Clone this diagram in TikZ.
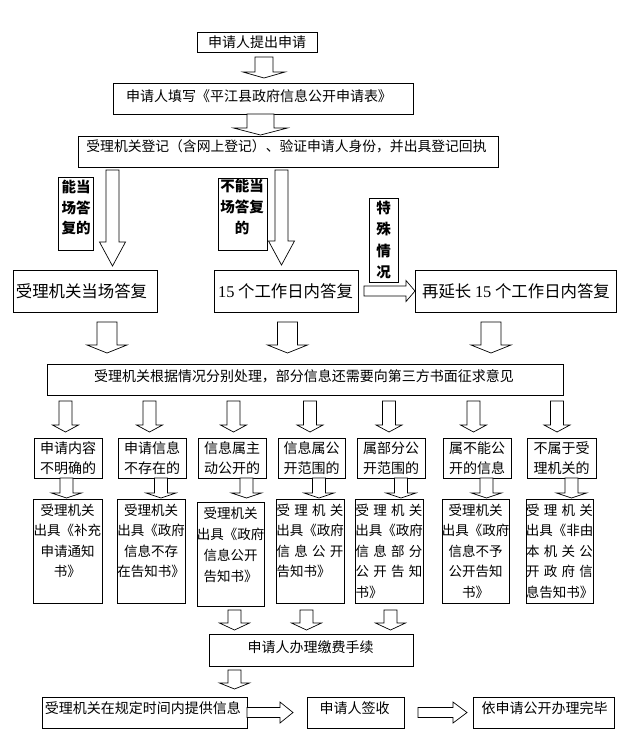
\documentclass[tikz,border=0pt]{standalone}
\usepackage{fontspec}
\setmainfont{Noto Sans CJK SC}
\newfontfamily\tnr{Liberation Serif}
\usetikzlibrary{calc}
\newcommand\lnc[1]{\makebox[67pt][c]{#1}}
\newcommand\lns[1]{\makebox[67pt][s]{#1}}
\newcommand\lnl[1]{\makebox[67pt][l]{#1}}
% box: name, x1, y1, x2, y2, text x, text y, text style, text
\newcommand\tb[9]{%
  \node[bx, minimum width={(#4-#2)*1pt}, minimum height={(#5-#3)*1pt}] (#1) at ({(#2+#4)/2},{(#3+#5)/2}) {};
  \node[#8] (#1t) at (#6,#7) {#9};}
% vertical hollow arrow: x, shaft half width, head half width, head length, from, to, top gap, bottom gap
\newcommand\varr[8]{%
  \draw[arr] let \p1=(#5.south), \p2=(#6.north) in
   ({#1pt-#2pt},{\y1-#7pt}) -- ({#1pt+#2pt},{\y1-#7pt}) -- ({#1pt+#2pt},{\y2+#8pt+#4pt})
   -- ({#1pt+#3pt},{\y2+#8pt+#4pt}) -- ({#1pt},{\y2+#8pt}) -- ({#1pt-#3pt},{\y2+#8pt+#4pt})
   -- ({#1pt-#2pt},{\y2+#8pt+#4pt}) -- cycle;}
% horizontal hollow arrow: y offset, shaft half width, head half width, head length, from, to, left gap, right gap
\newcommand\harr[8]{%
  \draw[arr] let \p1=(#5.east), \p2=(#6.west) in
   ({\x1+#7pt},{\y1-#1pt+#2pt}) -- ({\x2-#8pt-#4pt},{\y1-#1pt+#2pt}) -- ({\x2-#8pt-#4pt},{\y1-#1pt+#3pt})
   -- ({\x2-#8pt},{\y1-#1pt}) -- ({\x2-#8pt-#4pt},{\y1-#1pt-#3pt}) -- ({\x2-#8pt-#4pt},{\y1-#1pt-#2pt})
   -- ({\x1+#7pt},{\y1-#1pt-#2pt}) -- cycle;}
\tikzset{
  bx/.style={draw, line width=0.8pt, inner sep=0pt, outer sep=0pt, rectangle},
  arr/.style={draw, fill=white, line width=0.7pt, line join=miter},
  t14/.style={inner sep=0pt, font=\fontsize{14}{16}\selectfont},
  t138/.style={inner sep=0pt, font=\fontsize{13.8}{16}\selectfont},
  tbig/.style={inner sep=0pt, font=\fontsize{16.4}{18}\selectfont},
  tlab/.style={inner sep=0pt, align=center, font=\fontsize{14.5}{#1}\selectfont\bfseries},
  tcond/.style={inner sep=0pt, align=center, font=\fontsize{14}{19.5}\selectfont},
  tres/.style={inner sep=0pt, align=left, font=\fontsize{13.5}{#1}\selectfont},
}
\begin{document}
\begin{tikzpicture}[x=1pt, y=-1pt]
\fill[white] (0,0) rectangle (618,729);
\useasboundingbox (0,0) rectangle (618,729);
% top chain
\tb{b1}{197}{32}{317}{52}{257}{42}{t14}{申请人提出申请}
\tb{b2}{113}{83}{413}{114}{259}{96}{t14}{申请人填写《平江县政府信息公开申请表》}
\tb{b3}{78}{136}{498}{167}{286.5}{146.7}{t138}{受理机关登记（含网上登记）、验证申请人身份，并出具登记回执}
% labels
\tb{l1}{58}{177}{93}{250}{76}{207.5}{tlab=20.5}{能当\\场答\\复的}
\tb{l2}{218}{178}{267}{250}{242}{207}{tlab=21}{不能当\\场答复\\的}
\tb{l3}{369}{198}{398}{282}{383.5}{240}{tlab=21.3}{特\\殊\\情\\况}
% middle row
\tb{m1}{13}{270}{157}{312}{81.5}{291}{tbig}{受理机关当场答复}
\tb{m2}{214}{270}{358}{312}{285.5}{291}{tbig}{{\tnr 15} 个工作日内答复}
\tb{m3}{415}{270}{616}{312}{516}{291}{tbig}{再延长 {\tnr 15} 个工作日内答复}
% processing
\tb{p}{47}{364}{563}{395}{304}{376}{t14}{受理机关根据情况分别处理，部分信息还需要向第三方书面征求意见}
% conditions
\tb{c1}{34}{438}{102}{478}{68}{458}{tcond}{申请内容\\不明确的}
\tb{c2}{118}{438}{186}{478}{152}{458}{tcond}{申请信息\\不存在的}
\tb{c3}{198}{438}{266}{478}{232}{458}{tcond}{信息属主\\动公开的}
\tb{c4}{278}{438}{345}{478}{311.5}{458}{tcond}{信息属公\\开范围的}
\tb{c5}{357}{438}{425}{478}{391}{458}{tcond}{属部分公\\开范围的}
\tb{c6}{443}{438}{511}{478}{477}{458}{tcond}{属不能公\\开的信息}
\tb{c7}{527}{438}{596}{478}{561.5}{458}{tcond}{不属于受\\理机关的}
% results
\tb{r1}{33}{499}{102}{603}{67.5}{541}{tres=20.5}{\lnc{受理机关}\\\lnc{出具《补充}\\\lnc{申请通知}\\\lnc{书》}}
\tb{r2}{117}{499}{185}{603}{151}{541}{tres=20.5}{\lnc{受理机关}\\\lnc{出具《政府}\\\lnc{信息不存}\\\lnc{在告知书》}}
\tb{r3}{197}{502}{264}{606}{230.5}{544.5}{tres=21}{\lnc{受理机关}\\\lnc{出具《政府}\\\lnc{信息公开}\\\lnc{告知书》}}
\tb{r4}{276}{499}{344}{603}{310}{541}{tres=20.5}{\lns{受\hfill 理\hfill 机\hfill 关}\\\lnc{出具《政府}\\\lns{信\hfill 息\hfill 公\hfill 开}\\\lnl{告知书》}}
\tb{r5}{355}{499}{423}{603}{389}{551}{tres=20.5}{\lns{受\hfill 理\hfill 机\hfill 关}\\\lnc{出具《政府}\\\lns{信\hfill 息\hfill 部\hfill 分}\\\lns{公\hfill 开\hfill 告\hfill 知}\\\lnl{书》}}
\tb{r6}{442}{499}{509}{603}{475.5}{551}{tres=20.5}{\lnc{受理机关}\\\lnc{出具《政府}\\\lnc{信息不予}\\\lnc{公开告知}\\\lnc{书》}}
\tb{r7}{526}{499}{593}{603}{559.5}{551}{tres=20.5}{\lns{受\hfill 理\hfill 机\hfill 关}\\\lnc{出具《非由}\\\lns{本\hfill 机\hfill 关\hfill 公}\\\lns{开\hfill 政\hfill 府\hfill 信}\\\lnc{息告知书》}}
% bottom
\tb{pay}{209}{634}{413}{666}{310.5}{647}{t14}{申请人办理缴费手续}
\tb{prov}{42}{697}{247}{728}{143}{708}{t14}{受理机关在规定时间内提供信息}
\tb{sign}{307}{697}{404}{728}{354.5}{708}{t14}{申请人签收}
\tb{fin}{473}{697}{614}{728}{544.5}{708}{t14}{依申请公开办理完毕}
% arrows
\varr{264}{9}{21}{6}{b1}{b2}{5}{5}
\varr{260.5}{13.5}{27}{7}{b2}{b3}{0}{1}
\varr{112.5}{6.5}{13}{24}{b3}{m1}{3}{4}
\varr{281.5}{6.5}{13}{24}{b3}{m2}{3}{5}
\harr{0}{5}{10.5}{9}{m2}{m3}{6}{0}
\varr{107}{10}{20}{8}{m1}{p}{10}{11}
\varr{287.5}{10}{20}{8}{m2}{p}{10}{11}
\varr{491}{10}{20}{8}{m3}{p}{10}{11}
\varr{65.5}{6.5}{13}{7}{p}{c1}{6}{6}
\varr{149.5}{6.5}{13}{7}{p}{c2}{6}{6}
\varr{233.5}{6.5}{13}{7}{p}{c3}{6}{6}
\varr{310}{6.5}{13}{7}{p}{c4}{6}{6}
\varr{389}{6.5}{13}{7}{p}{c5}{6}{6}
\varr{473.5}{6.5}{13}{7}{p}{c6}{6}{6}
\varr{557}{6.5}{13}{7}{p}{c7}{6}{6}
\varr{66.5}{6.5}{15}{5}{c1}{r1}{0}{1}
\varr{161}{6.5}{15}{5}{c2}{r2}{0}{1}
\varr{246.5}{6.5}{15}{5}{c3}{r3}{0}{4}
\varr{319}{6.5}{15}{5}{c4}{r4}{0}{1}
\varr{401}{6.5}{15}{5}{c5}{r5}{0}{1}
\varr{486.5}{6.5}{15}{5}{c6}{r6}{0}{1}
\varr{571.5}{6.5}{15}{5}{c7}{r7}{0}{1}
\varr{234.5}{6.5}{15}{7}{r3}{pay}{4}{4}
\varr{306.5}{6.5}{15}{7}{r4}{pay}{7}{4}
\varr{390.5}{6.5}{15}{7}{r5}{pay}{7}{4}
\varr{234.5}{6.5}{15}{6}{pay}{prov}{4}{8}
\harr{0}{5}{10.5}{13}{prov}{sign}{0}{14}
\harr{0}{5}{10.5}{14}{sign}{fin}{14}{6}
\end{tikzpicture}
\end{document}
